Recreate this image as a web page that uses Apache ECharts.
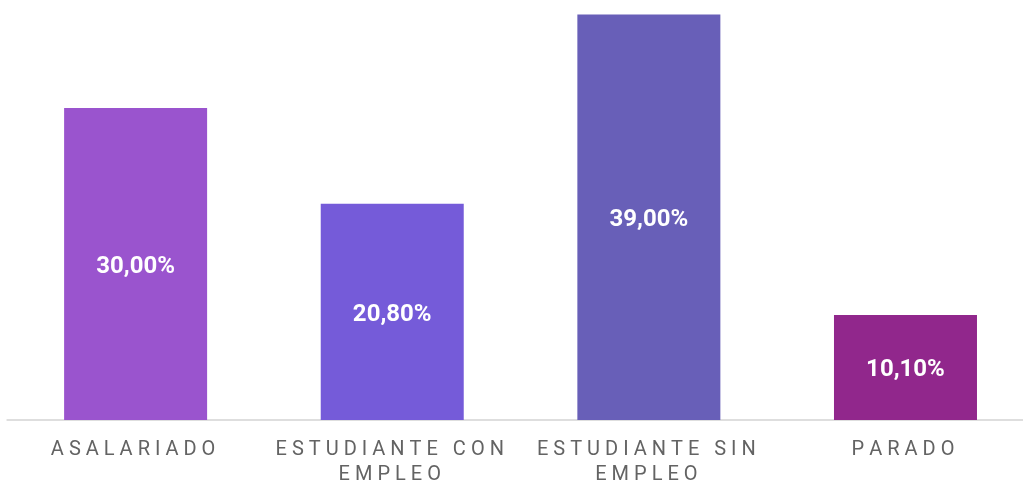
<!DOCTYPE html>
<html>
<head>
<meta charset="utf-8">
<script src="https://cdn.jsdelivr.net/npm/echarts@6/dist/echarts.min.js"></script>
<style>
html,body{margin:0;padding:0;background:#fff;}
#chart{width:1023px;height:480px;}
</style>
</head>
<body>
<div id="chart"></div>
<script>
const categories = ['ASALARIADO', 'ESTUDIANTE CON EMPLEO', 'ESTUDIANTE SIN EMPLEO', 'PARADO'];
const values = [30.0, 20.8, 39.0, 10.1];
const barColors = ['#9a54ce', '#755bd9', '#685fb8', '#91278c'];

const LETTER_SP = 5;

function wrapWords(s, maxLen) {
  const words = s.split(' ');
  const lines = [];
  let cur = '';
  for (const w of words) {
    if (cur && (cur + ' ' + w).length > maxLen) { lines.push(cur); cur = w; }
    else cur = cur ? cur + ' ' + w : w;
  }
  if (cur) lines.push(cur);
  return lines;
}
function spaced(s) {
  return wrapWords(s, 14).map(line =>
    line.split('').map(ch => '{c|' + ch + '}').join('')
  ).join('\n');
}

const chart = echarts.init(document.getElementById('chart'), null, {renderer: 'canvas'});
chart.setOption({
  animation: false,
  grid: {left: 7.3, width: 1026.5, top: 14.5, bottom: 60, containLabel: false, outerBoundsMode: 'none'},
  xAxis: {
    type: 'category',
    data: categories,
    axisLine: {show: true, lineStyle: {color: '#dedede', width: 2}},
    axisTick: {show: false},
    axisLabel: {
      interval: 0,
      margin: 17,
      formatter: v => spaced(v),
      lineHeight: 25,
      rich: {
        c: {fontFamily: 'Roboto', fontSize: 20, color: '#636363', padding: [0, LETTER_SP, 0, 0], lineHeight: 25}
      }
    }
  },
  yAxis: {
    type: 'value',
    min: 0,
    max: 39,
    show: false,
    splitLine: {show: false}
  },
  series: [{
    type: 'bar',
    barWidth: 143,
    data: values.map((v, i) => ({value: v, itemStyle: {color: barColors[i]}})),
    label: {
      show: true,
      position: 'inside',
      offset: [0, 3],
      formatter: p => p.value.toFixed(2).replace('.', ',') + '%',
      color: '#ffffff',
      fontFamily: 'Roboto',
      fontWeight: 'bold',
      fontSize: 24
    }
  }]
});
</script>
</body>
</html>
